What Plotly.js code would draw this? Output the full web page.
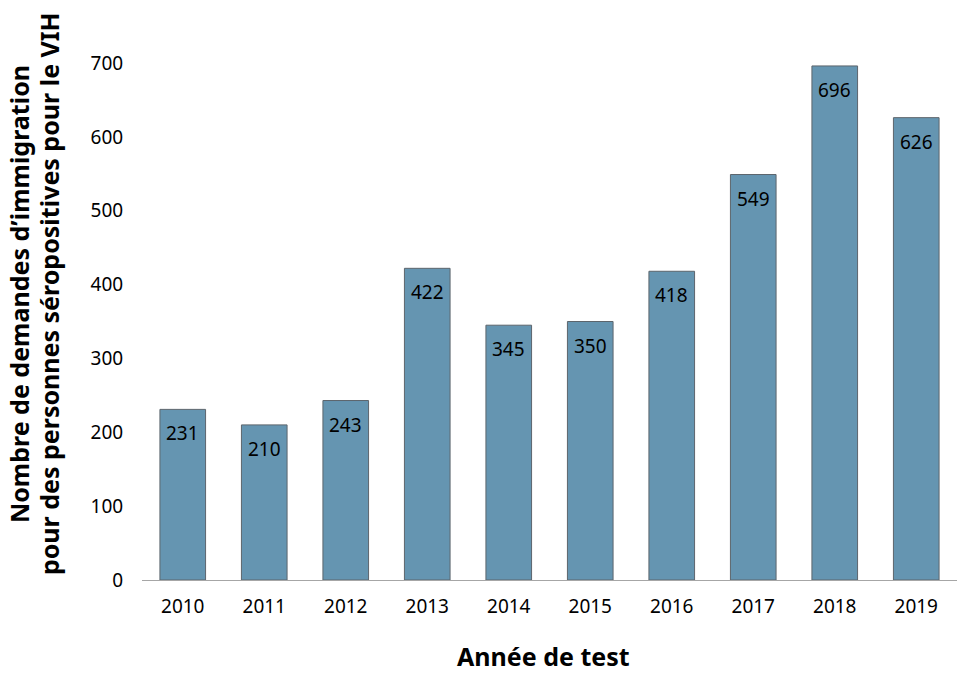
<!DOCTYPE html>
<html>
<head>
<meta charset="utf-8">
<script src="https://cdn.plot.ly/plotly-3.0.1.min.js"></script>
<style>html,body{margin:0;padding:0;background:#fff;}#chart{width:980px;height:700px;}</style>
</head>
<body>
<div id="chart"></div>
<script>
const years = [2010, 2011, 2012, 2013, 2014, 2015, 2016, 2017, 2018, 2019];
const counts = [231, 210, 243, 422, 345, 350, 418, 549, 696, 626];
const yTicks = [0, 100, 200, 300, 400, 500, 600, 700];
const xTitle = 'Année de test';
const yTitleLine1 = 'Nombre de demandes d’immigration';
const yTitleLine2 = 'pour des personnes séropositives pour le VIH';

const FONT = '"Noto Sans", "Open Sans", sans-serif';

const trace = {
  type: 'bar',
  x: years,
  y: counts,
  width: 0.56,
  marker: {color: '#6595b1', line: {color: '#5c656c', width: 1}},
  hoverinfo: 'x+y'
};

const valueLabels = years.map((yr, i) => ({
  x: yr, y: counts[i], xref: 'x', yref: 'y',
  text: String(counts[i]), showarrow: false,
  yanchor: 'middle', yshift: -24,
  font: {family: FONT, size: 19, color: '#000'}
}));

const titleFont = {family: FONT, size: 25, color: '#000', weight: 'bold'};
const titles = [
  {text: yTitleLine1, xref: 'paper', yref: 'paper', x: -0.1509, y: 0.553,
   xanchor: 'center', yanchor: 'middle', textangle: -90, showarrow: false, font: titleFont},
  {text: yTitleLine2, xref: 'paper', yref: 'paper', x: -0.1141, y: 0.553,
   xanchor: 'center', yanchor: 'middle', textangle: -90, showarrow: false, font: titleFont},
  {text: xTitle, xref: 'paper', yref: 'paper', x: 0.4926, y: -0.147,
   xanchor: 'center', yanchor: 'middle', showarrow: false, font: titleFont}
];

const layout = {
  width: 980, height: 700,
  margin: {l: 142, r: 23, t: 63, b: 120},
  paper_bgcolor: '#fff', plot_bgcolor: '#fff',
  font: {family: FONT, size: 19, color: '#000'},
  showlegend: false,
  xaxis: {
    type: 'linear',
    range: [2009.5, 2019.5],
    tickvals: years,
    ticktext: years.map(String),
    showgrid: false, zeroline: false,
    showline: true, linecolor: '#a6a6a6', linewidth: 1,
    ticks: 'outside', ticklen: 9, tickcolor: 'rgba(0,0,0,0)',
    tickfont: {family: FONT, size: 19, color: '#000'},
    automargin: false
  },
  yaxis: {
    range: [0, 700],
    tickvals: yTicks,
    showgrid: false, zeroline: false, showline: false,
    ticks: 'outside', ticklen: 14, tickcolor: 'rgba(0,0,0,0)',
    tickfont: {family: FONT, size: 19, color: '#000'},
    automargin: false
  },
  annotations: valueLabels.concat(titles)
};

Plotly.newPlot('chart', [trace], layout, {displayModeBar: false, staticPlot: true});
</script>
</body>
</html>
